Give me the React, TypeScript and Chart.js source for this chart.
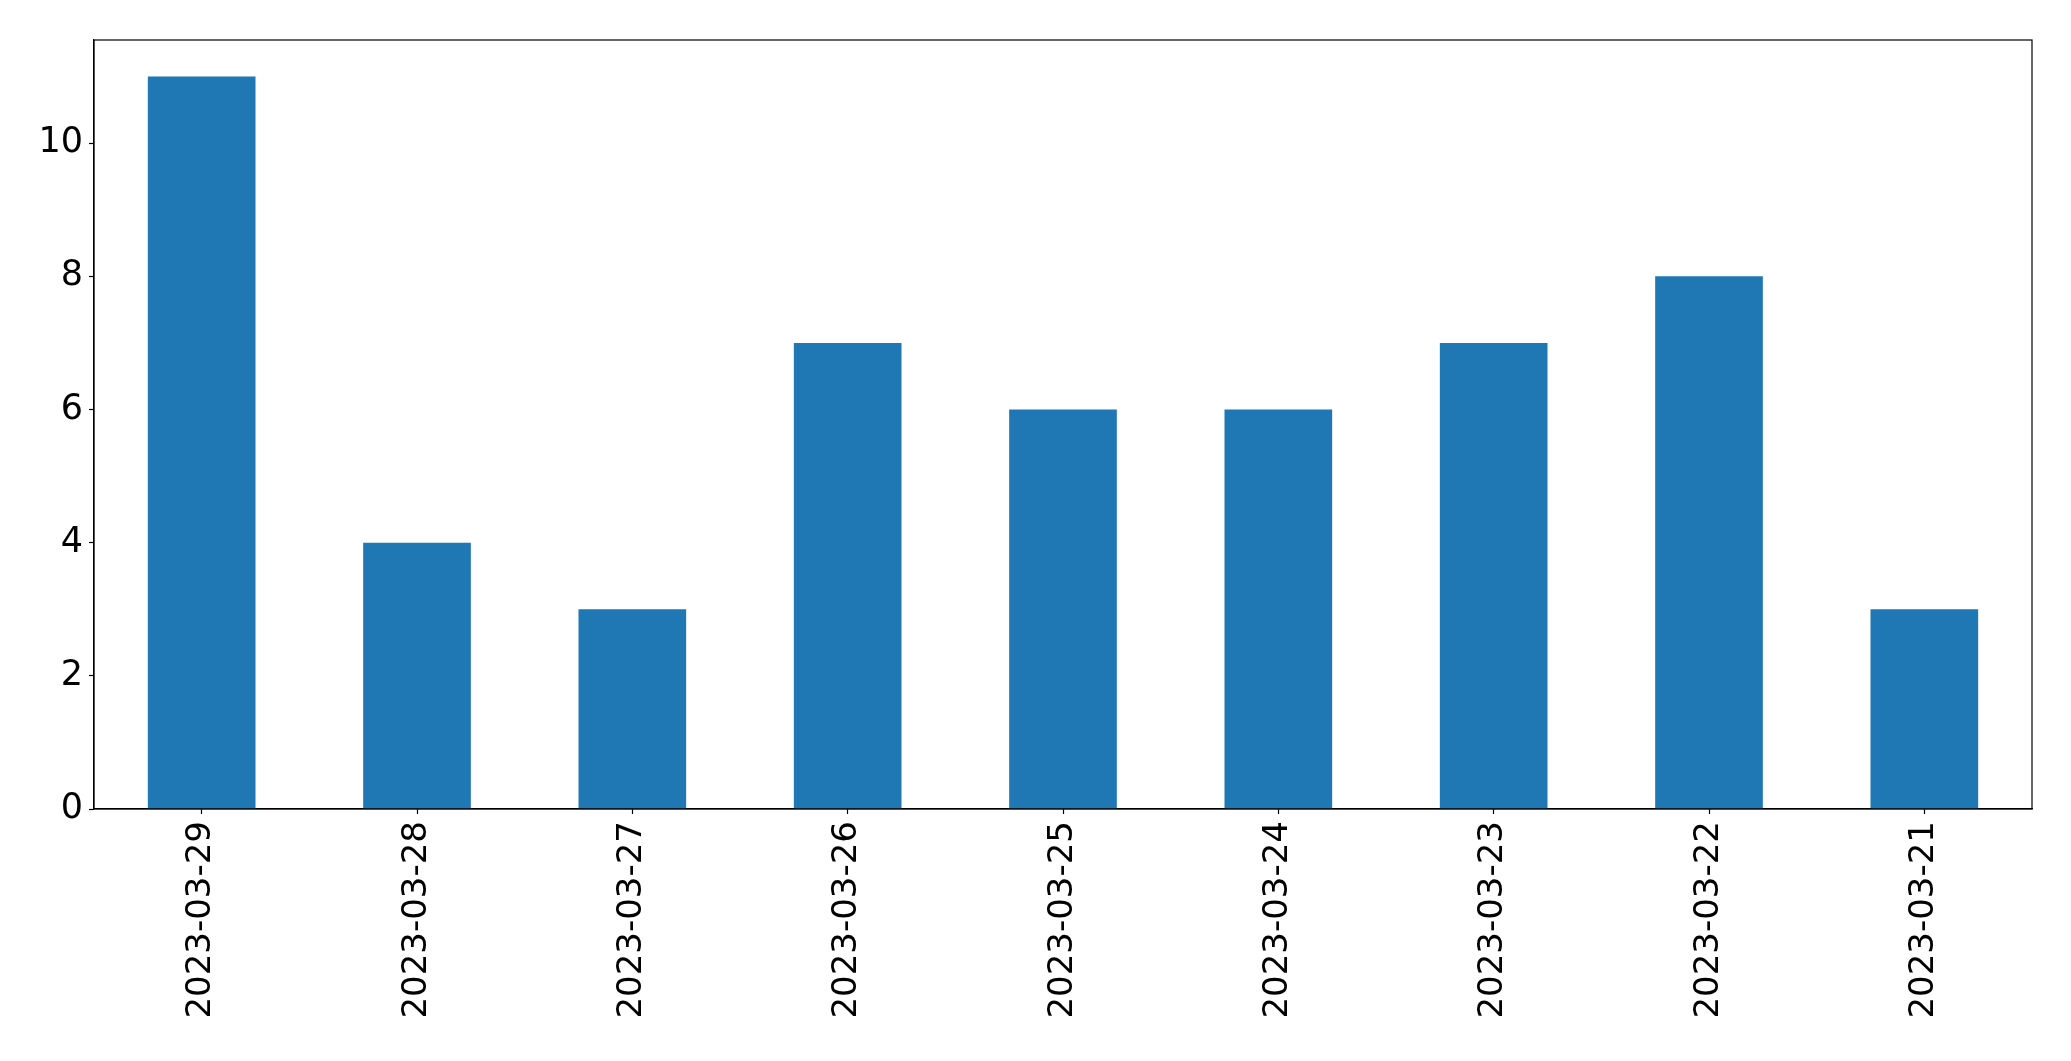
import React, { useEffect, useRef } from "react";
import { Chart, registerables } from "chart.js";

Chart.register(...registerables);

const categories = [
  "2023-03-29",
  "2023-03-28",
  "2023-03-27",
  "2023-03-26",
  "2023-03-25",
  "2023-03-24",
  "2023-03-23",
  "2023-03-22",
  "2023-03-21",
];
const counts = [11, 4, 3, 7, 6, 6, 7, 8, 3];
const yTicks = [0, 2, 4, 6, 8, 10];

const W = 2071;
const H = 1061;

const frame = {
  id: "frame",
  afterDraw(chart: any) {
    const { ctx, chartArea } = chart;
    ctx.save();
    ctx.strokeStyle = "#000";
    ctx.lineWidth = 1.2;
    ctx.strokeRect(chartArea.left, chartArea.top, chartArea.right - chartArea.left, chartArea.bottom - chartArea.top);
    ctx.restore();
  },
};

export default function App() {
  const ref = useRef<HTMLCanvasElement>(null);
  useEffect(() => {
    document.body.style.margin = "0";
    const chart = new Chart(ref.current!, {
      type: "bar",
      data: {
        labels: categories,
        datasets: [
          {
            data: counts,
            backgroundColor: "#1f77b4",
            categoryPercentage: 1,
            barPercentage: 0.5,
          },
        ],
      },
      options: {
        animation: false,
        responsive: false,
        devicePixelRatio: 1,
        layout: { padding: { left: 0, top: 40, right: 39, bottom: 0 } },
        plugins: { legend: { display: false }, tooltip: { enabled: false } },
        scales: {
          x: {
            offset: true,
            grid: { drawOnChartArea: false, offset: false, tickLength: 5, tickColor: "#000", tickWidth: 1.2 },
            border: { color: "#000", width: 1.2 },
            ticks: {
              color: "#000",
              font: { family: "DejaVu Sans", size: 34 },
              maxRotation: 90,
              minRotation: 90,
              padding: 7,
              autoSkip: false,
            },
            afterFit(scale: any) {
              scale.height = H - 809;
            },
          },
          y: {
            min: 0,
            max: 11.55,
            grid: { drawOnChartArea: false, tickLength: 5, tickColor: "#000", tickWidth: 1.2 },
            border: { color: "#000", width: 1.2 },
            afterBuildTicks(scale: any) {
              scale.ticks = yTicks.map((v) => ({ value: v }));
            },
            ticks: {
              color: "#000",
              font: { family: "DejaVu Sans", size: 35 },
              padding: 6,
            },
            afterFit(scale: any) {
              scale.width = 94;
            },
          },
        },
      },
      plugins: [frame],
    });
    return () => chart.destroy();
  }, []);
  return (
    <div style={{ position: "absolute", left: 0, top: 0, width: W, height: H, background: "#fff" }}>
      <canvas ref={ref} width={W} height={H} style={{ width: W, height: H }} />
    </div>
  );
}
